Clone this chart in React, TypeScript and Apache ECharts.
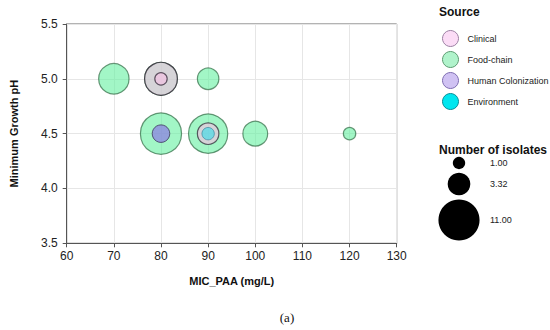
import React, { useEffect, useRef } from "react";
import * as echarts from "echarts";

// [MIC_PAA (mg/L), Minimum Growth pH, Number of isolates]
const foodChain: number[][] = [
  [70, 5.0, 6],
  [80, 5.0, 7],
  [90, 5.0, 3],
  [80, 4.5, 11],
  [90, 4.5, 10],
  [100, 4.5, 4],
  [120, 4.5, 1],
];
const clinical: number[][] = [
  [80, 5.0, 7],
  [80, 5.0, 1],
  [90, 4.5, 3],
];
const humanColonization: number[][] = [[80, 4.5, 2]];
const environment: number[][] = [[90, 4.5, 1]];

const sourceNames = ["Clinical", "Food-chain", "Human Colonization", "Environment"];
const sizeLegendValues = [1.0, 3.32, 11.0];
const xTicks = { min: 60, max: 130, interval: 10 };
const yTicks = { min: 3.5, max: 5.5, interval: 0.5 };

const sizeOf = (n: number) => 12.4 * Math.sqrt(n);

const FONT = "Liberation Sans, Arial, Helvetica, sans-serif";

export default function App() {
  const ref = useRef<HTMLDivElement>(null);
  useEffect(() => {
    document.body.style.margin = "0";
    if (!ref.current) return;
    const chart = echarts.init(ref.current, null, { renderer: "svg" });

    const sizeLegendTop = [163, 184, 220];
    const sizeGraphics: any[] = [];
    sizeLegendValues.forEach((v, i) => {
      sizeGraphics.push({
        type: "circle",
        shape: { cx: 459, cy: sizeLegendTop[i], r: sizeOf(v) / 2 },
        style: { fill: "#000" },
      });
      sizeGraphics.push({
        type: "text",
        x: 490,
        y: sizeLegendTop[i],
        style: {
          text: v.toFixed(2),
          font: `9px ${FONT}`,
          fill: "#222",
          verticalAlign: "middle",
        },
      });
    });

    const bubble = (name: string, data: number[][], color: string, border: string, bw: number) => ({
      name,
      type: "scatter",
      data,
      symbol: "circle",
      symbolSize: (val: number[]) => sizeOf(val[2]),
      itemStyle: { color, borderColor: border, borderWidth: bw, opacity: 1 },
      emphasis: { disabled: true },
    });

    chart.setOption({
      animation: false,
      grid: {
        left: 66.7,
        right: 153.3,
        top: 24,
        bottom: 86.7,
        show: true,
        borderColor: "#666",
        borderWidth: 1,
      },
      xAxis: {
        type: "value",
        min: xTicks.min,
        max: xTicks.max,
        interval: xTicks.interval,
        name: "MIC_PAA (mg/L)",
        nameLocation: "middle",
        nameGap: 32,
        nameTextStyle: { fontFamily: FONT, fontWeight: "bold", fontSize: 11, color: "#111" },
        axisLine: { show: true, lineStyle: { color: "#555" } },
        axisTick: { show: true, length: 4, lineStyle: { color: "#555" } },
        axisLabel: { fontFamily: FONT, fontSize: 12, color: "#222", margin: 7 },
        splitLine: { show: true, lineStyle: { color: "#e6e6e6" } },
      },
      yAxis: {
        type: "value",
        min: yTicks.min,
        max: yTicks.max,
        interval: yTicks.interval,
        name: "Minimum Growth pH",
        nameLocation: "middle",
        nameGap: 47,
        nameTextStyle: { fontFamily: FONT, fontWeight: "bold", fontSize: 11, color: "#111" },
        axisLine: { show: true, lineStyle: { color: "#555" } },
        axisTick: { show: true, length: 4, lineStyle: { color: "#555" } },
        axisLabel: {
          fontFamily: FONT,
          fontSize: 12,
          color: "#222",
          margin: 9,
          formatter: (v: number) => v.toFixed(1),
        },
        splitLine: { show: true, lineStyle: { color: "#e6e6e6" } },
      },
      legend: {
        orient: "vertical",
        left: 437,
        top: 25,
        itemWidth: 16,
        itemHeight: 16,
        itemGap: 4,
        icon: "circle",
        textStyle: { fontFamily: FONT, fontSize: 9, color: "#222", padding: [0, 0, 0, 4] },
        selectedMode: false,
        data: [
          { name: sourceNames[0], itemStyle: { color: "#fbdcf6", borderColor: "#9a7fa2", borderWidth: 1, opacity: 1 } },
          { name: sourceNames[1], itemStyle: { color: "#b0f3cb", borderColor: "#5c9a70", borderWidth: 1, opacity: 1 } },
          { name: sourceNames[2], itemStyle: { color: "#d0c2f3", borderColor: "#7d6cb0", borderWidth: 1, opacity: 1 } },
          { name: sourceNames[3], itemStyle: { color: "#00e6ef", borderColor: "#0a8c96", borderWidth: 1, opacity: 1 } },
        ],
      },
      graphic: [
        {
          type: "text",
          x: 439,
          y: 12,
          style: { text: "Source", font: `bold 12px ${FONT}`, fill: "#111", verticalAlign: "middle" },
        },
        {
          type: "text",
          x: 439,
          y: 150,
          style: { text: "Number of isolates", font: `bold 12px ${FONT}`, fill: "#111", verticalAlign: "middle" },
        },
        ...sizeGraphics,
        {
          type: "text",
          x: 287,
          y: 317,
          style: {
            text: "(a)",
            font: `13px "Liberation Serif", "DejaVu Serif", serif`,
            fill: "#111",
            align: "center",
            verticalAlign: "middle",
          },
        },
      ],
      series: [
        bubble(sourceNames[1], foodChain, "rgba(100,240,160,0.6)", "rgba(45,105,65,0.7)", 1.2),
        bubble(sourceNames[0], clinical, "rgba(245,190,228,0.62)", "rgba(40,30,45,0.7)", 1.2),
        bubble(sourceNames[2], humanColonization, "rgba(140,130,225,0.75)", "rgba(60,50,90,0.8)", 1),
        bubble(sourceNames[3], environment, "rgba(0,225,240,0.45)", "rgba(40,120,150,0.6)", 1),
      ],
    });
    return () => chart.dispose();
  }, []);
  return <div ref={ref} style={{ width: 550, height: 330 }} />;
}
